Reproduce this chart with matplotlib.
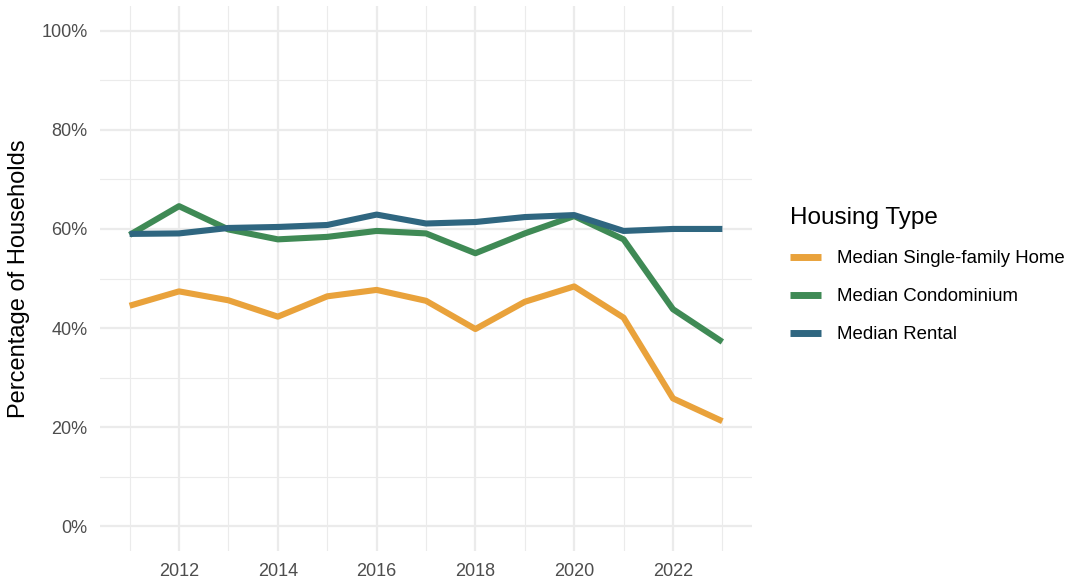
import matplotlib
matplotlib.use("Agg")
import matplotlib.pyplot as plt
from matplotlib.ticker import MultipleLocator, FuncFormatter

# data
years = [2011, 2012, 2013, 2014, 2015, 2016, 2017, 2018, 2019, 2020, 2021, 2022, 2023]
single_family = [44.5, 47.4, 45.6, 42.3, 46.4, 47.7, 45.5, 39.8, 45.3, 48.4, 42.1, 25.8, 21.2]
condominium = [58.8, 64.6, 59.9, 57.9, 58.4, 59.6, 59.1, 55.1, 59.1, 62.6, 57.9, 43.8, 37.2]
rental = [59.0, 59.1, 60.2, 60.4, 60.8, 62.9, 61.1, 61.4, 62.4, 62.8, 59.6, 60.0, 60.0]

series_names = ["Median Single-family Home", "Median Condominium", "Median Rental"]
series_colors = ["#E9A23B", "#3F8A55", "#2F6680"]

plt.rcParams["font.family"] = ["Liberation Sans", "DejaVu Sans"]

fig = plt.figure(figsize=(10.76, 5.79), dpi=100)
fig.patch.set_facecolor("white")
ax = fig.add_axes([100 / 1076, (579 - 551) / 579, 652 / 1076, 545 / 579])

for vals, name, col in zip([single_family, condominium, rental], series_names, series_colors):
    ax.plot(years, vals, color=col, linewidth=4.4, label=name,
            solid_capstyle="butt", solid_joinstyle="round")

ax.set_xlim(2011 - 0.6, 2023 + 0.6)
ax.set_ylim(-5, 105)

ax.xaxis.set_major_locator(MultipleLocator(2))
ax.xaxis.set_minor_locator(MultipleLocator(1))
ax.yaxis.set_major_locator(MultipleLocator(20))
ax.yaxis.set_minor_locator(MultipleLocator(10))
ax.yaxis.set_major_formatter(FuncFormatter(lambda v, p: f"{int(round(v))}%"))

ax.grid(which="major", color="#EBEBEB", linewidth=1.6)
ax.grid(which="minor", color="#EBEBEB", linewidth=0.8)
ax.set_axisbelow(True)

for s in ax.spines.values():
    s.set_visible(False)
ax.tick_params(which="both", length=0)
ax.tick_params(axis="both", labelsize=13, labelcolor="#4D4D4D")
ax.tick_params(axis="y", pad=9)
ax.tick_params(axis="x", pad=9)

ax.set_ylabel("Percentage of Households", fontsize=17, color="black", labelpad=8)

leg = ax.legend(title="Housing Type", loc="upper left",
                bbox_to_anchor=(783 / 1076, (579 - 200) / 579),
                bbox_transform=fig.transFigure,
                frameon=False, fontsize=13.4, title_fontsize=17.5,
                handlelength=1.65, handletextpad=0.85, labelspacing=1.12,
                borderaxespad=0)
leg._legend_box.align = "left"
for line in leg.get_lines():
    line.set_linewidth(5)

fig.savefig("out.png", dpi=100, facecolor="white")
